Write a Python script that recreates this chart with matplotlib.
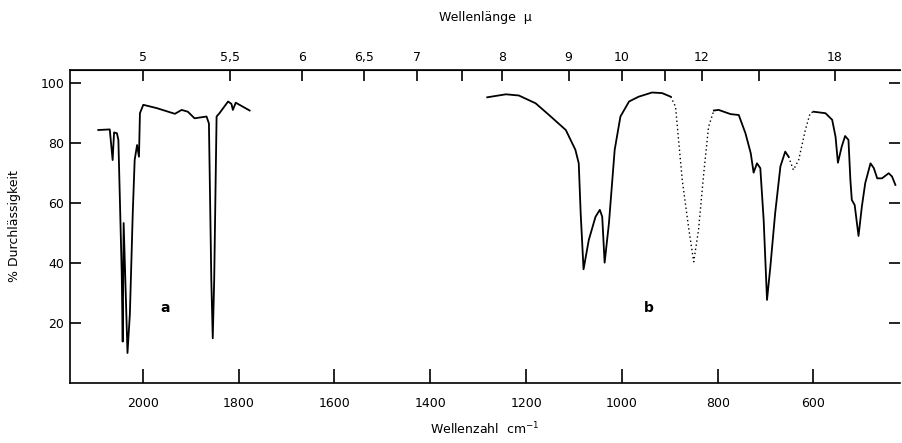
"""IR spectrum, parts a and b, with wavenumber and wavelength axes."""
import matplotlib.pyplot as plt
import numpy as np

plt.rcParams['font.family'] = ['DejaVu Sans']

# part a (solid)
a_wn = [2093, 2069, 2063, 2060, 2054, 2051, 2044, 2042, 2040, 2032, 2027, 2021, 2017,
        2012, 2008, 2006, 1999, 1971, 1933, 1919, 1906, 1892, 1867, 1862, 1857, 1854,
        1851, 1846, 1840, 1822, 1815, 1812, 1806, 1777]
a_t = [84.3, 84.5, 74.3, 83.5, 83.2, 81, 36.6, 13.8, 53.3, 10, 23, 56.6, 74.3,
       79.3, 75.4, 89.9, 92.7, 91.6, 89.7, 91, 90.4, 88.2, 88.8, 86.5, 34.3, 14.9,
       34.3, 88.8, 89.9, 93.8, 93, 91, 93.4, 90.8]

# part b, solid and dotted pieces
b1_wn = [1281, 1242, 1215, 1180, 1152, 1117, 1097, 1090, 1086, 1080, 1069, 1055, 1046,
         1041, 1036, 1027, 1015, 1003, 985, 965, 937, 916, 898]
b1_t = [95.2, 96.2, 95.8, 93.2, 89.3, 84.3, 77.7, 73.2, 56.6, 37.9, 47.7, 55.4, 57.7,
        55.4, 40.1, 53.2, 77.7, 88.8, 93.8, 95.4, 96.8, 96.6, 95.4]
b2_wn = [898, 888, 874, 860, 850, 840, 829, 819, 808]
b2_t = [95.4, 92.1, 67.7, 51, 40.4, 51, 70.0, 85.4, 90.8]
b3_wn = [808, 798, 773, 756, 742, 731, 725, 718, 711, 704, 697, 690, 680, 669, 659, 652]
b3_t = [90.8, 91, 89.6, 89.3, 83.2, 76.6, 70.1, 73.2, 71.6, 54.3, 27.7, 38.8, 56.6,
        72.2, 77.1, 75.4]
b4_wn = [652, 642, 631, 617, 607, 600]
b4_t = [75.4, 71, 74.3, 84.3, 89.9, 90.4]
b5_wn = [600, 575, 561, 554, 549, 541, 534, 527, 523, 520, 514, 506, 499, 492, 481,
         474, 467, 457, 443, 436, 429]
b5_t = [90.4, 89.9, 87.7, 82.1, 73.4, 78.8, 82.3, 81, 67.7, 61, 59.3, 49, 58.8, 66.6,
        73.2, 71.6, 68.2, 68.2, 69.9, 68.8, 66]

wn_ticks = [2000, 1800, 1600, 1400, 1200, 1000, 800, 600]
t_ticks = [20, 40, 60, 80, 100]
mu_ticks = [5, 5.5, 6, 6.5, 7, 7.5, 8, 9, 10, 11, 12, 14, 18]
mu_labels = ['5', '5,5', '6', '6,5', '7', '', '8', '9', '10', '', '12', '', '18']

fig = plt.figure(figsize=(9.02, 4.43), dpi=100)
ax = fig.add_axes([0.0776, 0.1354, 0.9204, 0.7066])

ax.plot(a_wn, a_t, color='black', lw=1.3)
ax.plot(b1_wn, b1_t, color='black', lw=1.3)
ax.plot(b2_wn, b2_t, color='black', lw=1.0, ls=(0, (1, 2)))
ax.plot(b3_wn, b3_t, color='black', lw=1.3)
ax.plot(b4_wn, b4_t, color='black', lw=1.0, ls=(0, (1, 2)))
ax.plot(b5_wn, b5_t, color='black', lw=1.3)

ax.set_xlim(2152, 419)
ax.set_ylim(0, 104.3)

ax.set_xticks(wn_ticks)
ax.set_yticks(t_ticks)
ax.tick_params(axis='x', direction='in', length=10, width=1.2, labelsize=9, pad=10)
ax.tick_params(axis='y', direction='in', length=8, width=1.2, labelsize=9,
               right=True, pad=4)
ax.spines['right'].set_visible(False)
for s in ['left', 'bottom', 'top']:
    ax.spines[s].set_linewidth(1.2)

top = ax.secondary_xaxis('top', functions=(lambda w: 10000 / np.asarray(w, float),
                                           lambda m: 10000 / np.asarray(m, float)))
top.set_xticks(mu_ticks)
top.set_xticklabels(mu_labels)
top.tick_params(direction='in', length=8, width=1.2, labelsize=9, pad=4)
top.set_xlabel('Wellenlänge  μ', fontsize=9, labelpad=22)

ax.set_xlabel('Wellenzahl  cm$^{-1}$', fontsize=9, labelpad=8)
ax.set_ylabel('% Durchlässigkeit', fontsize=9, labelpad=14)

ax.text(1954, 25, 'a', fontsize=10, ha='center', va='center', fontweight='bold')
ax.text(944, 25, 'b', fontsize=10, ha='center', va='center', fontweight='bold')

fig.savefig('out.png', dpi=100)
